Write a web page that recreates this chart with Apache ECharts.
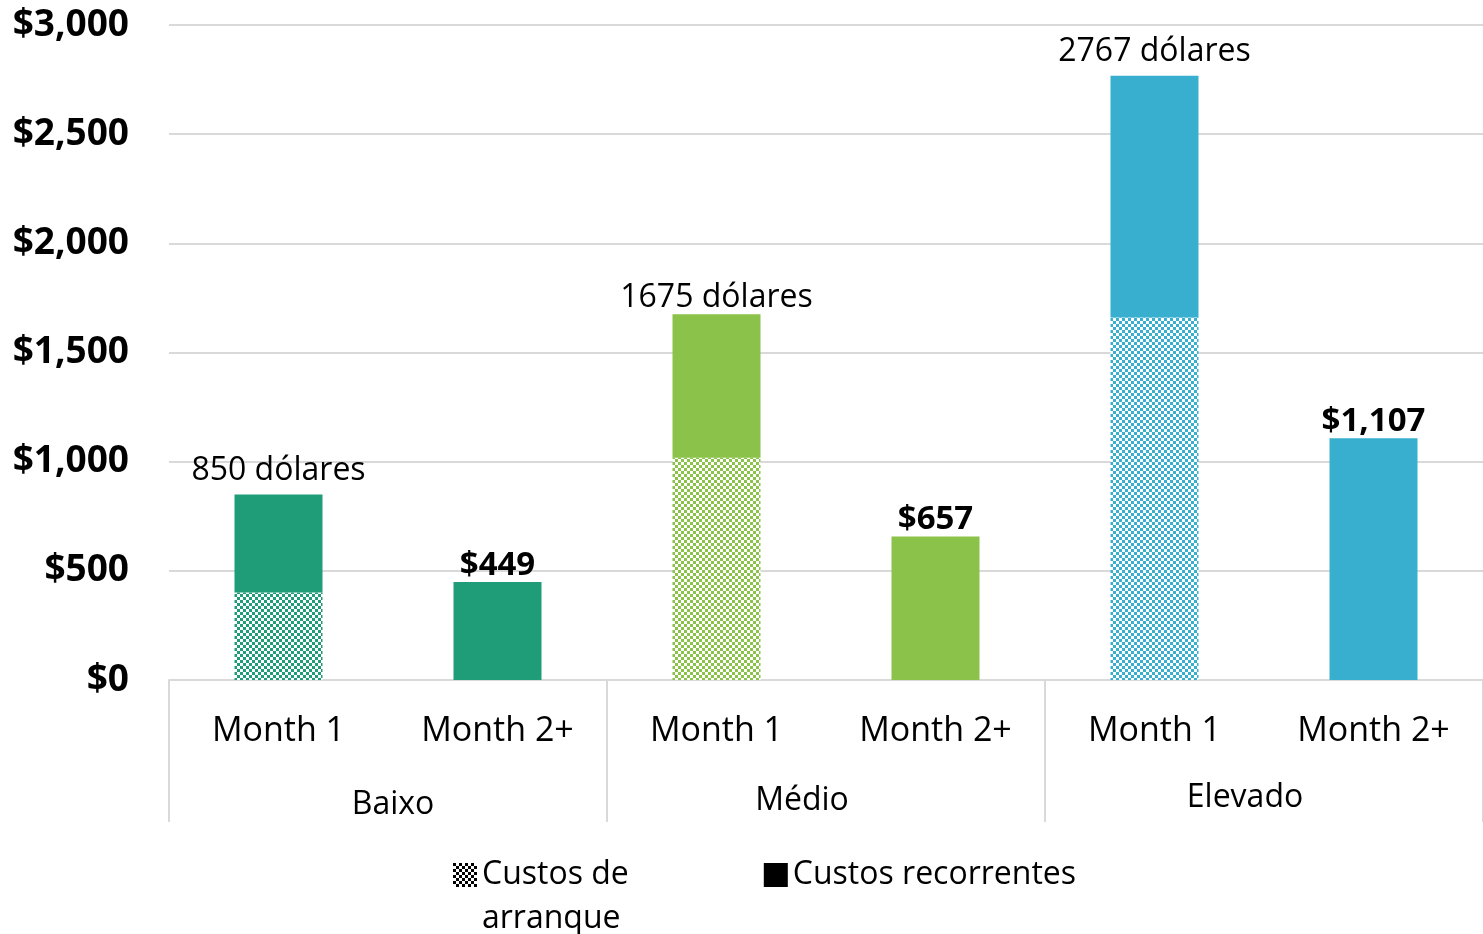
<!DOCTYPE html>
<html><head><meta charset="utf-8">
<script src="https://cdn.jsdelivr.net/npm/echarts@6/dist/echarts.min.js"></script>
<style>html,body{margin:0;padding:0;background:#fff}#c{width:1483px;height:934px}</style>
</head><body><div id="c"></div>
<script>
const months = ['Month 1','Month 2+','Month 1','Month 2+','Month 1','Month 2+'];
const groups = ['Baixo','Médio','Elevado'];
const startupCosts = [401, null, 1018, null, 1660, null];
const recurringCosts = [449, 449, 657, 657, 1107, 1107];
const groupColors = ['#1F9C78', '#8BC249', '#38AFCF'];
const yTicks = [0, 500, 1000, 1500, 2000, 2500, 3000];

function checker(color, size) {
  const c = document.createElement('canvas');
  c.width = size * 2; c.height = size * 2;
  const g = c.getContext('2d');
  g.fillStyle = '#ffffff'; g.fillRect(0, 0, size * 2, size * 2);
  g.fillStyle = color;
  g.fillRect(0, 0, size, size);
  g.fillRect(size, size, size, size);
  return { image: c, repeat: 'repeat' };
}

const FONT = 'Open Sans';
const fmtMoney = v => '$' + v.toLocaleString('en-US');
const groupKeys = ['g0', 'g1', 'g2'];
const totalKeys = ['r', 'r', 'r2', 'r2', 'r', 'r'];
const legendIcon = 'path://M0,0H24V24H0Z M0,68L0.001,68Z';

const chart = echarts.init(document.getElementById('c'), null, { renderer: 'canvas' });
chart.setOption({
  animation: false,
  grid: { left: 169, right: 0, top: 25, bottom: 254, containLabel: false },
  xAxis: [
    {
      type: 'category', data: months, position: 'bottom',
      axisLine: { show: true, lineStyle: { color: '#d9d9d9', width: 2 } },
      axisTick: { show: false },
      axisLabel: { margin: 34, fontFamily: FONT, fontSize: 34, color: '#000' }
    },
    {
      type: 'category', data: groups, position: 'bottom', offset: 0,
      axisLine: { show: false },
      axisTick: { show: true, length: 142, interval: 0, lineStyle: { color: '#d9d9d9', width: 2 } },
      axisLabel: { margin: 102, fontFamily: FONT, fontSize: 32, color: '#000',
        formatter: (v, i) => '{' + groupKeys[i] + '|' + v + '}',
        rich: {
          g0: { fontFamily: FONT, fontSize: 32, color: '#000', padding: [7, 0, 0, 10] },
          g1: { fontFamily: FONT, fontSize: 32, color: '#000', padding: [3, 48, 0, 0] },
          g2: { fontFamily: FONT, fontSize: 32, color: '#000', padding: [0, 38, 0, 0] }
        }
      }
    }
  ],
  yAxis: {
    type: 'value', min: yTicks[0], max: yTicks[yTicks.length - 1], interval: 500,
    axisLine: { show: false }, axisTick: { show: false },
    splitLine: { lineStyle: { color: '#d9d9d9', width: 2 } },
    axisLabel: { margin: 40, fontFamily: FONT, fontSize: 37, fontWeight: 'bold', color: '#000',
      formatter: v => fmtMoney(v) }
  },
  legend: {
    left: 448, top: 848, itemWidth: 24, itemHeight: 68, itemGap: 135,
    textStyle: { fontFamily: FONT, fontSize: 32, color: '#000', lineHeight: 44 },
    data: [
      { name: 'Custos de arranque', icon: legendIcon, itemStyle: { color: checker('#000000', 3) } },
      { name: 'Custos recorrentes', icon: legendIcon, itemStyle: { color: '#000000' } }
    ],
    formatter: n => n === 'Custos de arranque' ? 'Custos de\narranque' : n + '\n '
  },
  series: [
    {
      name: 'Custos de arranque', type: 'bar', stack: 'total', barWidth: 88,
      itemStyle: { color: checker('#000000', 3) },
      data: startupCosts.map((v, i) => ({ value: v, itemStyle: { color: checker(groupColors[Math.floor(i / 2)], 3) } }))
    },
    {
      name: 'Custos recorrentes', type: 'bar', stack: 'total', barWidth: 88,
      itemStyle: { color: '#000000' },
      data: recurringCosts.map((v, i) => ({ value: v, itemStyle: { color: groupColors[Math.floor(i / 2)] } })),
      label: {
        show: true, position: 'top', distance: 0, fontFamily: FONT, color: '#000',
        formatter: p => {
          const i = p.dataIndex;
          if (startupCosts[i] != null) return '{' + totalKeys[i] + '|' + (startupCosts[i] + recurringCosts[i]) + ' dólares}';
          return '{b|' + fmtMoney(recurringCosts[i]) + '}';
        },
        rich: {
          r: { fontFamily: FONT, fontSize: 32, color: '#000', padding: [0, 0, 8, 0] },
          r2: { fontFamily: FONT, fontSize: 32, color: '#000', padding: [0, 0, 0, 0] },
          b: { fontFamily: FONT, fontSize: 33, fontWeight: 'bold', color: '#000' }
        }
      }
    }
  ]
});
</script></body></html>
